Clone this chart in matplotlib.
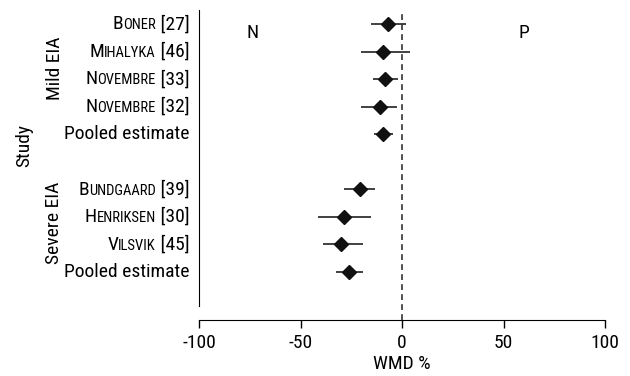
import numpy as np
import matplotlib
matplotlib.use("Agg")
import matplotlib.pyplot as plt
from matplotlib.offsetbox import TextArea, HPacker, AnnotationBbox

plt.rcParams['font.family'] = ['Roboto Condensed', 'DejaVu Sans']

# datos
mild_names = ["Boner", "Mihalyka", "Novembre", "Novembre", None]
mild_refs = ["[27]", "[46]", "[33]", "[32]", None]
mild_wmd = [-6.7, -9.4, -8.6, -10.7, -9.5]
mild_lo = [-15.5, -20.4, -14.3, -20.0, -13.8]
mild_hi = [1.8, 3.7, -1.8, -2.3, -4.4]

severe_names = ["Bundgaard", "Henriksen", "Vilsvik", None]
severe_refs = ["[39]", "[30]", "[45]", None]
severe_wmd = [-20.9, -28.4, -29.9, -26.1]
severe_lo = [-28.8, -41.6, -39.1, -32.4]
severe_hi = [-13.3, -15.1, -19.1, -19.1]

xticks = [-100, -50, 0, 50, 100]

names = mild_names + severe_names
refs = mild_refs + severe_refs
wmd = np.array(mild_wmd + severe_wmd)
lo = np.array(mild_lo + severe_lo)
hi = np.array(mild_hi + severe_hi)
rows = np.array(list(range(len(mild_names))) +
                [len(mild_names) + 1 + i for i in range(len(severe_names))])

fig = plt.figure(figsize=(6.3, 3.76), dpi=100)
ax = fig.add_axes([199/630, 1-320/376, 406/630, 310/376])

ax.axvline(0, color='#333333', lw=1.2, ls=(0, (3.5, 2.5)), zorder=1)
ax.errorbar(wmd, rows, xerr=[wmd-lo, hi-wmd], fmt='D', color='#111111',
            ecolor='#333333', elinewidth=1.3, capsize=0, markersize=7.5, zorder=3)

ax.set_xlim(-100, 100)
ax.set_ylim(10.74, -0.51)
ax.set_xticks(xticks)
ax.set_xticklabels([str(t) for t in xticks], fontsize=14)
ax.tick_params(axis='x', length=6, width=1, pad=4)
ax.set_yticks([])
ax.spines['top'].set_visible(False)
ax.spines['right'].set_visible(False)
ax.spines['left'].set_bounds(-0.51, 10.23)
ax.spines['bottom'].set_bounds(-100, 100)
ax.set_xlabel("WMD %", fontsize=14, labelpad=2)

# etiquetas con versalitas
for n, r, y in zip(names, refs, rows):
    if n is None:
        parts = [TextArea("Pooled estimate", textprops=dict(fontsize=14))]
    else:
        parts = [TextArea(n[0], textprops=dict(fontsize=14)),
                 TextArea(n[1:].upper(), textprops=dict(fontsize=10.5)),
                 TextArea(" " + r, textprops=dict(fontsize=14))]
    box = HPacker(children=parts, align="baseline", pad=0, sep=0)
    ab = AnnotationBbox(box, (0, y), xycoords=ax.get_yaxis_transform(),
                        xybox=(-7, 0), boxcoords="offset points",
                        box_alignment=(1, 0.5), frameon=False)
    ax.add_artist(ab)

ax.text(-0.355, 1.6, "Mild EIA", rotation=90, fontsize=14, ha='center', va='center',
        transform=ax.get_yaxis_transform())
ax.text(-0.358, 7.2, "Severe EIA", rotation=90, fontsize=14, ha='center', va='center',
        transform=ax.get_yaxis_transform())
fig.text(24/630, 1-145/376, "Study", rotation=90, fontsize=14, ha='center', va='center')

ax.text(-73.4, 0.33, "N", fontsize=14, ha='center', va='center')
ax.text(59.8, 0.33, "P", fontsize=14, ha='center', va='center')

fig.savefig("out.png", dpi=100)
